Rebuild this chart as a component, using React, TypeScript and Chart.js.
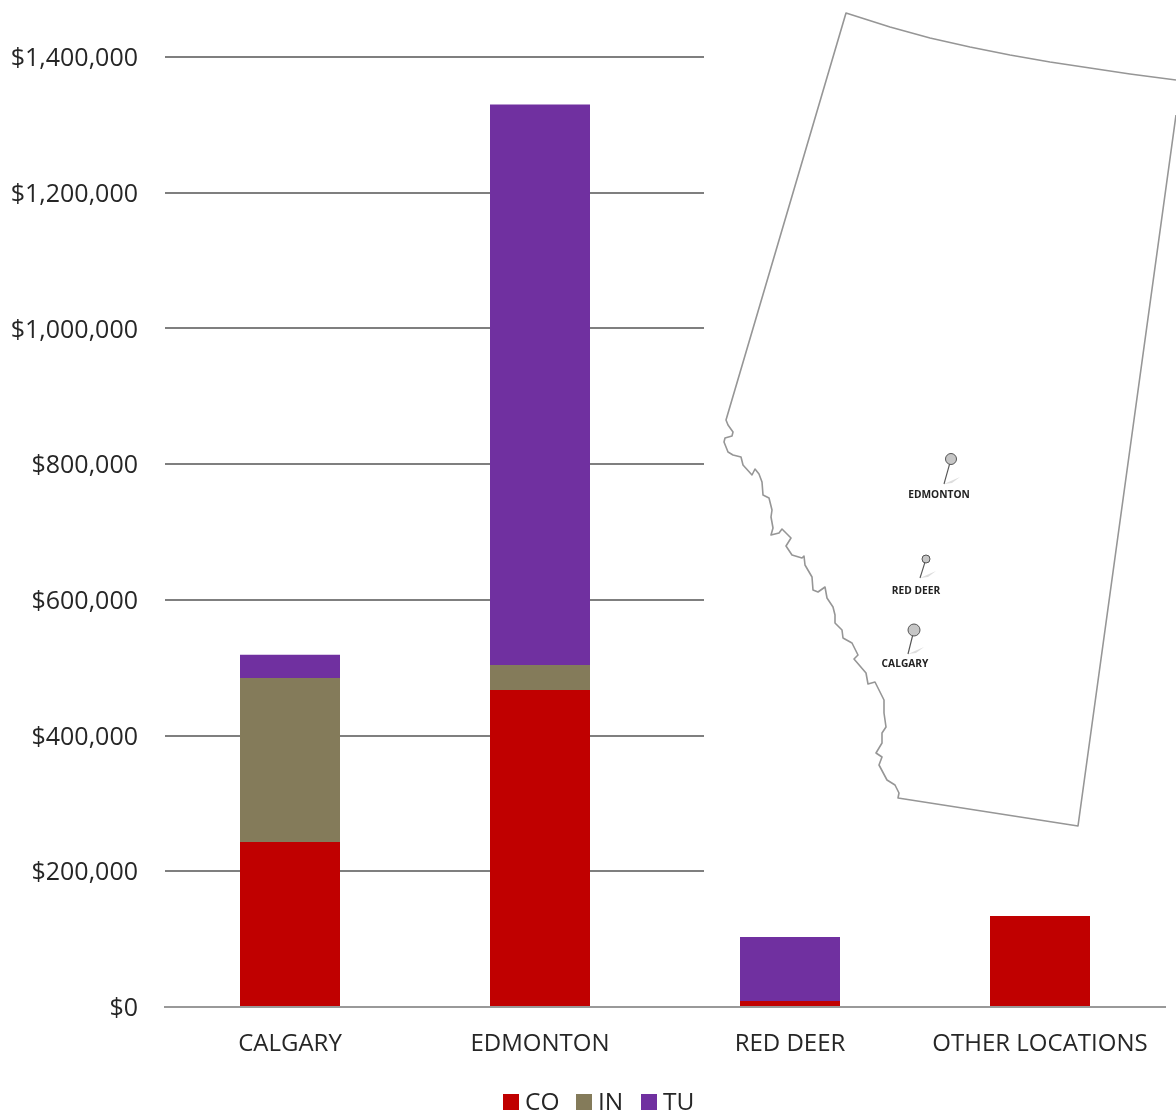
import React, { useEffect, useRef } from "react";
import { Chart, registerables } from "chart.js";

Chart.register(...registerables);

const categories = ["CALGARY", "EDMONTON", "RED DEER", "OTHER LOCATIONS"];
const coValues = [243000, 467000, 9000, 134000];
const inValues = [242000, 37000, 0, 0];
const tuValues = [34000, 826000, 94000, 0];

const FONT = '"Open Sans", sans-serif';
const TEXT = "#262626";

// Decorative map of Alberta, laid over the plot as in the source slide
const mapEdge: [number, number][] = [
  [1176, 115],
  [1078, 826], [898, 798], [899, 793], [895, 785], [887, 780], [879, 765], [882, 757], [876, 753],
  [882, 743], [882, 733], [886, 727], [884, 713], [884, 700], [875, 682], [868, 684],
  [866, 673], [854, 659], [858, 655], [852, 643], [843, 638], [842, 630], [835, 623],
  [835, 615], [833, 607], [827, 598], [825, 587], [818, 592], [813, 590], [812, 577],
  [805, 565], [804, 556], [802, 558], [792, 555], [786, 546], [791, 538], [782, 529],
  [779, 533], [771, 535], [773, 528], [771, 517], [772, 510], [769, 498], [763, 495],
  [762, 482], [759, 474], [755, 469], [752, 475], [743, 465], [741, 457], [733, 455],
  [728, 452], [724, 442], [725, 438], [732, 436], [733, 432], [728, 425], [726, 420],
  [846, 13], [890, 27], [930, 38], [970, 47], [1010, 55], [1050, 62], [1090, 68], [1130, 74], [1176, 80],
];
const mapPins = [
  { name: "EDMONTON", head: [951, 459], r: 5.5, foot: [944, 484], label: [939, 495] },
  { name: "RED DEER", head: [926, 559], r: 4, foot: [920, 578], label: [916, 591] },
  { name: "CALGARY", head: [914, 630], r: 6, foot: [908, 654], label: [905, 664] },
];

const overlay = {
  id: "mapOverlay",
  afterDatasetsDraw(chart: Chart) {
    const ctx = chart.ctx;
    ctx.save();
    ctx.fillStyle = "#ffffff";
    ctx.fillRect(704, 0, 472, 900);
    ctx.beginPath();
    mapEdge.forEach(([x, y], i) => (i ? ctx.lineTo(x, y) : ctx.moveTo(x, y)));
    ctx.strokeStyle = "#969696";
    ctx.lineWidth = 1.6;
    ctx.lineJoin = "round";
    ctx.stroke();
    mapPins.forEach((p) => {
      ctx.beginPath();
      ctx.moveTo(p.foot[0], p.foot[1]);
      ctx.lineTo(p.foot[0] + 16, p.foot[1] - 7);
      ctx.lineTo(p.foot[0] + 8, p.foot[1] - 1);
      ctx.closePath();
      ctx.fillStyle = "#dddddd";
      ctx.fill();
      ctx.beginPath();
      ctx.moveTo(p.head[0], p.head[1]);
      ctx.lineTo(p.foot[0], p.foot[1]);
      ctx.strokeStyle = "#555555";
      ctx.lineWidth = 1.1;
      ctx.stroke();
      ctx.beginPath();
      ctx.arc(p.head[0], p.head[1], p.r, 0, Math.PI * 2);
      ctx.fillStyle = "#c6c6c6";
      ctx.fill();
      ctx.strokeStyle = "#555555";
      ctx.lineWidth = 1;
      ctx.stroke();
      ctx.font = `700 10.2px ${FONT}`;
      ctx.fillStyle = "#222222";
      ctx.textAlign = "center";
      ctx.textBaseline = "middle";
      ctx.fillText(p.name, p.label[0], p.label[1]);
    });
    ctx.restore();
  },
  afterDraw(chart: Chart) {
    // Legend with the source's tight swatch-to-text gap
    const ctx = chart.ctx;
    ctx.save();
    ctx.font = `24.5px ${FONT}`;
    ctx.textAlign = "left";
    ctx.textBaseline = "middle";
    const starts = [503, 576, 641];
    chart.data.datasets.forEach((d, i) => {
      ctx.fillStyle = d.backgroundColor as string;
      ctx.fillRect(starts[i], 1094, 16, 16);
      ctx.fillStyle = TEXT;
      ctx.fillText(d.label as string, starts[i] + 22, 1103);
    });
    ctx.restore();
  },
};

export default function App() {
  const ref = useRef<HTMLCanvasElement>(null);
  useEffect(() => {
    const chart = new Chart(ref.current!, {
      type: "bar",
      data: {
        labels: categories,
        datasets: [
          { label: "CO", data: coValues, backgroundColor: "#C00000" },
          { label: "IN", data: inValues, backgroundColor: "#847B5A" },
          { label: "TU", data: tuValues, backgroundColor: "#7030A0" },
        ],
      },
      options: {
        animation: false,
        responsive: false,
        devicePixelRatio: 1,
        layout: { padding: { left: 11, right: 11, top: 57, bottom: 48 } },
        datasets: { bar: { categoryPercentage: 0.8, barPercentage: 0.5 } },
        plugins: { legend: { display: false }, tooltip: { enabled: false } },
        scales: {
          x: {
            stacked: true,
            afterFit: (s: any) => { s.height = 60; },
            grid: { display: false, drawTicks: false },
            border: { color: "#999999", width: 2 },
            ticks: { color: TEXT, font: { family: FONT, size: 24 }, padding: 23, maxRotation: 0, autoSkip: false },
          },
          y: {
            stacked: true,
            min: 0,
            max: 1400000,
            afterFit: (s: any) => { s.width = 154; },
            border: { display: false },
            grid: { color: "#7f7f7f", lineWidth: 2, drawTicks: false },
            ticks: {
              stepSize: 200000,
              color: TEXT,
              font: { family: FONT, size: 25 },
              padding: 27,
              labelOffset: 2,
              callback: (v: any) => "$" + Number(v).toLocaleString("en-US"),
            },
          },
        },
      },
      plugins: [overlay],
    });
    return () => chart.destroy();
  }, []);
  return (
    <div style={{ position: "absolute", left: 0, top: 0, width: 1176, height: 1115, background: "#fff" }}>
      <canvas ref={ref} width={1176} height={1115} style={{ display: "block" }} />
    </div>
  );
}
